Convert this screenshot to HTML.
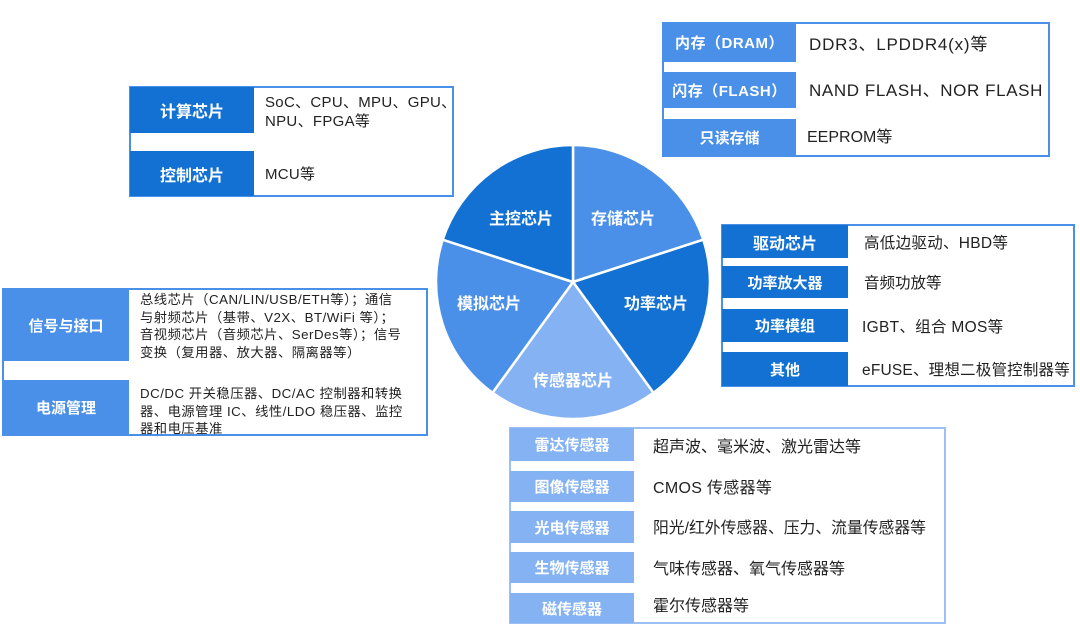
<!DOCTYPE html>
<html><head><meta charset="utf-8"><style>
body{margin:0;width:1080px;height:636px;background:#fff;position:relative;overflow:hidden;font-family:"Liberation Sans","Noto Sans CJK SC",sans-serif;}
.box{position:absolute;box-sizing:border-box;border:2px solid #4a8fe8;background:#fff;}
.lb{position:absolute;color:#fff;font-weight:bold;display:flex;align-items:center;justify-content:center;font-size:15px;}
.v{position:absolute;color:#222;display:flex;align-items:center;white-space:nowrap;}
.d{background:#1271d2}.m{background:#4a8fe8}.l{background:#85b2f2}
</style></head><body>

<svg width="1080" height="636" style="position:absolute;left:0;top:0">
<g stroke="#fff" stroke-width="2.5" stroke-linejoin="round">
<path d="M573,282 L573,145 A137,137 0 0 1 703.3,239.7 Z" fill="#4a8fe8"/>
<path d="M573,282 L703.3,239.7 A137,137 0 0 1 653.5,392.8 Z" fill="#1271d2"/>
<path d="M573,282 L653.5,392.8 A137,137 0 0 1 492.5,392.8 Z" fill="#85b2f2"/>
<path d="M573,282 L492.5,392.8 A137,137 0 0 1 442.7,239.7 Z" fill="#4a8fe8"/>
<path d="M573,282 L442.7,239.7 A137,137 0 0 1 573,145 Z" fill="#1271d2"/>
</g>
<g fill="#fff" font-weight="bold" font-size="16" text-anchor="middle" font-family="Liberation Sans,Noto Sans CJK SC,sans-serif">
<text x="521" y="224">主控芯片</text>
<text x="623" y="224">存储芯片</text>
<text x="489" y="309">模拟芯片</text>
<text x="656" y="309">功率芯片</text>
<text x="573" y="386">传感器芯片</text>
</g>
</svg>

<!-- top-left -->
<div class="box" style="left:129px;top:86px;width:325px;height:111px;"></div>
<div class="lb d" style="left:130px;top:87px;width:124px;height:46px;font-size:16px;">计算芯片</div>
<div class="lb d" style="left:130px;top:151px;width:124px;height:45px;font-size:16px;">控制芯片</div>
<div class="v" style="left:265px;top:93px;font-size:15px;line-height:19px;display:block;letter-spacing:0.3px;">SoC、CPU、MPU、GPU、<br>NPU、FPGA等</div>
<div class="v" style="left:265px;top:151px;height:45px;font-size:15px;letter-spacing:0.3px;">MCU等</div>

<!-- top-right -->
<div class="box" style="left:662px;top:22px;width:388px;height:135px;"></div>
<div class="lb m" style="left:663px;top:23px;width:133px;height:39px;letter-spacing:0.5px;">内存（DRAM）</div>
<div class="lb m" style="left:663px;top:72px;width:133px;height:36px;letter-spacing:0.5px;">闪存（FLASH）</div>
<div class="lb m" style="left:663px;top:119px;width:133px;height:37px;">只读存储</div>
<div class="v" style="left:809px;top:23px;height:39px;font-size:17px;letter-spacing:0.8px;">DDR3、LPDDR4(x)等</div>
<div class="v" style="left:809px;top:69px;height:39px;font-size:17px;letter-spacing:0.6px;">NAND FLASH、NOR FLASH</div>
<div class="v" style="left:807px;top:116px;height:37px;font-size:16px;">EEPROM等</div>

<!-- mid-right -->
<div class="box" style="left:721px;top:224px;width:354px;height:163px;"></div>
<div class="lb d" style="left:722px;top:225px;width:126px;height:33px;font-size:16px;">驱动芯片</div>
<div class="lb d" style="left:722px;top:266px;width:126px;height:32px;">功率放大器</div>
<div class="lb d" style="left:722px;top:309px;width:126px;height:33px;">功率模组</div>
<div class="lb d" style="left:722px;top:352px;width:126px;height:34px;">其他</div>
<div class="v" style="left:864px;top:225px;height:33px;font-size:15.5px;letter-spacing:0.3px;">高低边驱动、HBD等</div>
<div class="v" style="left:864px;top:266px;height:32px;font-size:15.5px;">音频功放等</div>
<div class="v" style="left:862px;top:309px;height:33px;font-size:15.5px;letter-spacing:0.3px;">IGBT、组合 MOS等</div>
<div class="v" style="left:862px;top:352px;height:34px;font-size:15.5px;letter-spacing:0.2px;">eFUSE、理想二极管控制器等</div>

<!-- left -->
<div class="box" style="left:2px;top:288px;width:426px;height:148px;"></div>
<div class="lb m" style="left:3px;top:289px;width:126px;height:72px;font-size:15px;">信号与接口</div>
<div class="lb m" style="left:3px;top:380px;width:126px;height:55px;font-size:15px;">电源管理</div>
<div class="v" style="left:140px;top:291px;font-size:13.3px;line-height:17.7px;display:block;letter-spacing:0.5px;">总线芯片（CAN/LIN/USB/ETH等）；通信<br>与射频芯片（基带、V2X、BT/WiFi 等）；<br>音视频芯片（音频芯片、SerDes等）；信号<br>变换（复用器、放大器、隔离器等）</div>
<div class="v" style="left:140px;top:385px;font-size:13.3px;line-height:17.7px;display:block;letter-spacing:0.5px;">DC/DC 开关稳压器、DC/AC 控制器和转换<br>器、电源管理 IC、线性/LDO 稳压器、监控<br>器和电压基准</div>

<!-- bottom -->
<div class="box" style="left:509px;top:427px;width:437px;height:197px;border-color:#9cc0f5;"></div>
<div class="lb l" style="left:510px;top:428px;width:124px;height:33px;">雷达传感器</div>
<div class="lb l" style="left:510px;top:471px;width:124px;height:31px;">图像传感器</div>
<div class="lb l" style="left:510px;top:511px;width:124px;height:32px;">光电传感器</div>
<div class="lb l" style="left:510px;top:552px;width:124px;height:31px;">生物传感器</div>
<div class="lb l" style="left:510px;top:593px;width:124px;height:30px;">磁传感器</div>
<div class="v" style="left:653px;top:428px;height:33px;font-size:16px;">超声波、毫米波、激光雷达等</div>
<div class="v" style="left:653px;top:470px;height:31px;font-size:16px;letter-spacing:0.3px;">CMOS 传感器等</div>
<div class="v" style="left:653px;top:510px;height:32px;font-size:15.8px;">阳光/红外传感器、压力、流量传感器等</div>
<div class="v" style="left:653px;top:551px;height:31px;font-size:16px;">气味传感器、氧气传感器等</div>
<div class="v" style="left:653px;top:589px;height:30px;font-size:16px;">霍尔传感器等</div>

</body></html>
